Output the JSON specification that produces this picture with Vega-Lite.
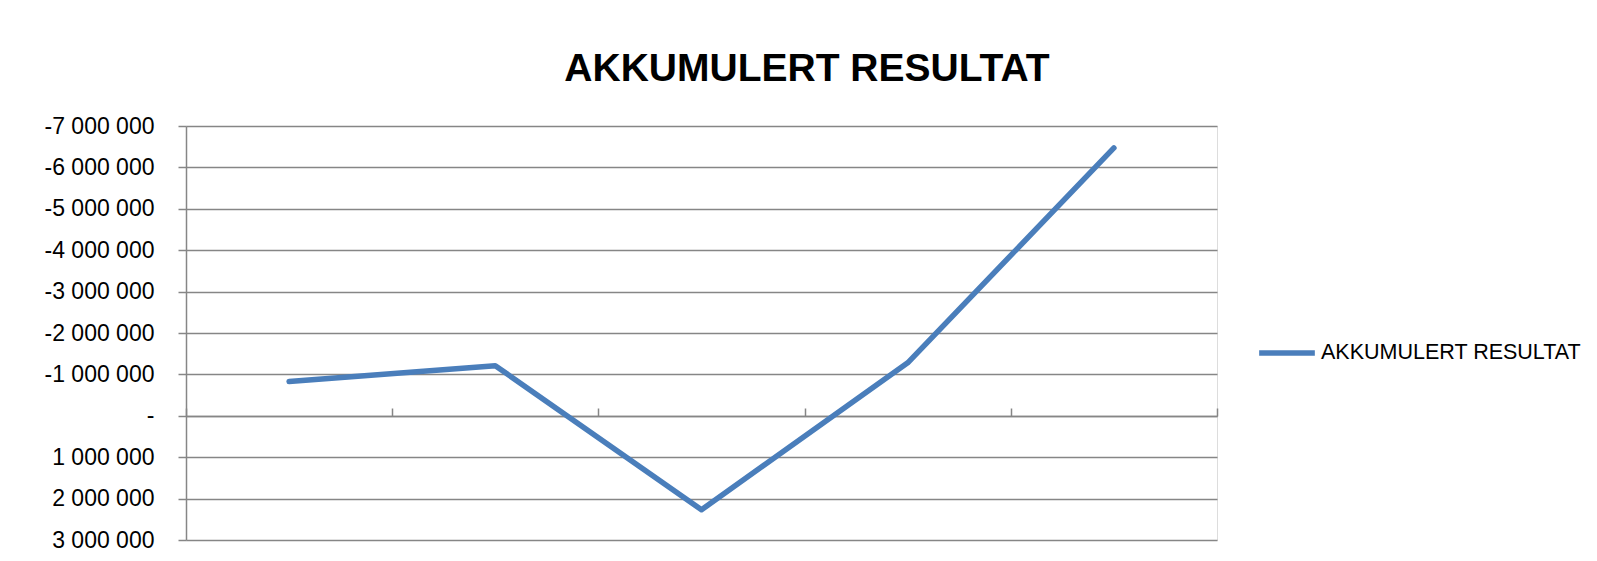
{
  "$schema": "https://vega.github.io/schema/vega-lite/v6.json",
  "width": 1031,
  "height": 414,
  "autosize": {"type": "none"},
  "padding": {"left": 186, "top": 126, "right": 380, "bottom": 21},
  "background": "white",
  "title": {
    "text": "AKKUMULERT RESULTAT",
    "font": "Liberation Sans",
    "fontSize": 39,
    "fontWeight": "bold",
    "color": "black",
    "anchor": "middle",
    "frame": "bounds",
    "offset": 26,
    "dx": -6
  },
  "data": {
    "values": [
      {"periode": "1", "verdi": -830000, "serie": "AKKUMULERT RESULTAT"},
      {"periode": "2", "verdi": -1210000, "serie": "AKKUMULERT RESULTAT"},
      {"periode": "3", "verdi": 2270000, "serie": "AKKUMULERT RESULTAT"},
      {"periode": "4", "verdi": -1280000, "serie": "AKKUMULERT RESULTAT"},
      {"periode": "5", "verdi": -6470000, "serie": "AKKUMULERT RESULTAT"}
    ]
  },
  "mark": {"type": "line", "strokeWidth": 5.5, "strokeCap": "round", "strokeJoin": "round"},
  "encoding": {
    "x": {
      "field": "periode",
      "type": "ordinal",
      "bandPosition": 0.5,
      "scale": {"paddingInner": 0, "paddingOuter": 0},
      "axis": {
        "orient": "top",
        "offset": -290,
        "labels": false,
        "title": null,
        "tickBand": "extent",
        "grid": false,
        "domainColor": "#868686",
        "domainWidth": 1.5,
        "tickColor": "#868686",
        "tickWidth": 1.5,
        "tickSize": 8
      }
    },
    "y": {
      "field": "verdi",
      "type": "quantitative",
      "scale": {"domain": [-7000000, 3000000], "reverse": true, "nice": false, "zero": false},
      "axis": {
        "values": [-7000000, -6000000, -5000000, -4000000, -3000000, -2000000, -1000000, 0, 1000000, 2000000, 3000000],
        "title": null,
        "grid": true,
        "gridColor": "#868686",
        "gridWidth": 1.5,
        "domainColor": "#868686",
        "domainWidth": 1.5,
        "tickColor": "#868686",
        "tickWidth": 1.5,
        "tickSize": 8,
        "labelFont": "Liberation Sans",
        "labelFontSize": 23,
        "labelColor": "black",
        "labelPadding": 24,
        "labelExpr": "datum.value == 0 ? '-  ' : (datum.value < 0 ? '-' : '') + replace(format(abs(datum.value), ','), regexp(',', 'g'), ' ')"
      }
    },
    "color": {
      "field": "serie",
      "type": "nominal",
      "scale": {"range": ["#4A7EBB"]},
      "legend": {
        "title": null,
        "orient": "none",
        "legendX": 1070,
        "legendY": 196,
        "symbolType": "stroke",
        "symbolStrokeWidth": 5.5,
        "symbolSize": 3100,
        "labelFont": "Liberation Sans",
        "labelFontSize": 21.5,
        "labelColor": "black",
        "labelOffset": 3,
        "labelLimit": 400
      }
    }
  }
}
